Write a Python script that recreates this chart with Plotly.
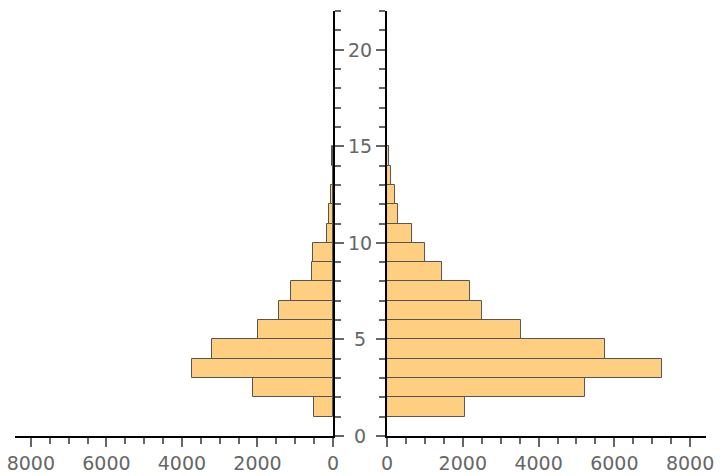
import plotly.graph_objects as go
from plotly.subplots import make_subplots

# histogram bins (lower edges, bin width 1)
bin_starts = list(range(1, 15))
left_counts = [495, 2110, 3730, 3200, 1980, 1422, 1105, 550, 520, 150, 100, 40, 0, 35]
right_counts = [2060, 5230, 7260, 5755, 3540, 2510, 2200, 1444, 1012, 668, 300, 220, 97, 60]

y_ticks = [0, 5, 10, 15, 20]
x_ticks = [0, 2000, 4000, 6000, 8000]

bar_fill = "#fecf80"
bar_edge = "#555555"
tick_grey = "#666666"

centers = [b + 0.5 for b in bin_starts]

fig = make_subplots(rows=1, cols=2)

fig.add_trace(
    go.Bar(
        x=left_counts,
        y=centers,
        width=1,
        orientation="h",
        marker={"color": bar_fill, "line": {"color": bar_edge, "width": 1}},
        showlegend=False,
        hoverinfo="x+y",
    ),
    row=1,
    col=1,
)
fig.add_trace(
    go.Bar(
        x=right_counts,
        y=centers,
        width=1,
        orientation="h",
        marker={"color": bar_fill, "line": {"color": bar_edge, "width": 1}},
        showlegend=False,
        hoverinfo="x+y",
    ),
    row=1,
    col=2,
)

x_common = dict(
    automargin=False,
    showline=True,
    linecolor="black",
    linewidth=2,
    showgrid=False,
    zeroline=False,
    ticks="outside",
    ticklen=9,
    tickwidth=2,
    tickcolor=tick_grey,
    tickvals=x_ticks,
    minor=dict(dtick=500, ticks="outside", ticklen=6, tickwidth=2, tickcolor=tick_grey),
    tickfont=dict(size=19, color=tick_grey),
)
y_common = dict(
    automargin=False,
    range=[0, 22],
    showline=True,
    linecolor="black",
    linewidth=2,
    showgrid=False,
    zeroline=False,
    ticks="outside",
    ticklen=9,
    tickwidth=2,
    tickcolor=tick_grey,
    tickvals=y_ticks,
    showticklabels=False,
    minor=dict(dtick=1, ticks="outside", ticklen=6, tickwidth=2, tickcolor=tick_grey),
)

left_dom = [0, 0.4602]
right_dom = [0.5384, 1]

fig.update_layout(
    xaxis=dict(domain=left_dom, range=[8420, 0], **x_common),
    xaxis2=dict(domain=right_dom, range=[0, 8420], **x_common),
    yaxis=dict(side="right", **y_common),
    yaxis2=dict(side="left", **y_common),
)

# shared y labels sit centred in the gap between the two panels
mid = (left_dom[1] + right_dom[0]) / 2
for v in y_ticks:
    fig.add_annotation(
        x=mid,
        xref="paper",
        y=v,
        yref="y",
        text=str(v),
        showarrow=False,
        xanchor="center",
        yanchor="middle",
        font=dict(size=19, color=tick_grey),
    )

fig.update_layout(
    width=720,
    height=476,
    margin=dict(l=15, r=14, t=11, b=40),
    plot_bgcolor="white",
    paper_bgcolor="white",
    font=dict(family="DejaVu Sans"),
    bargap=0,
)

# drop the default page margin so the figure sits at the window's corner
fig.write_html(
    "out.html",
    config={"displayModeBar": False},
    post_script="document.body.style.margin = '0';",
)
